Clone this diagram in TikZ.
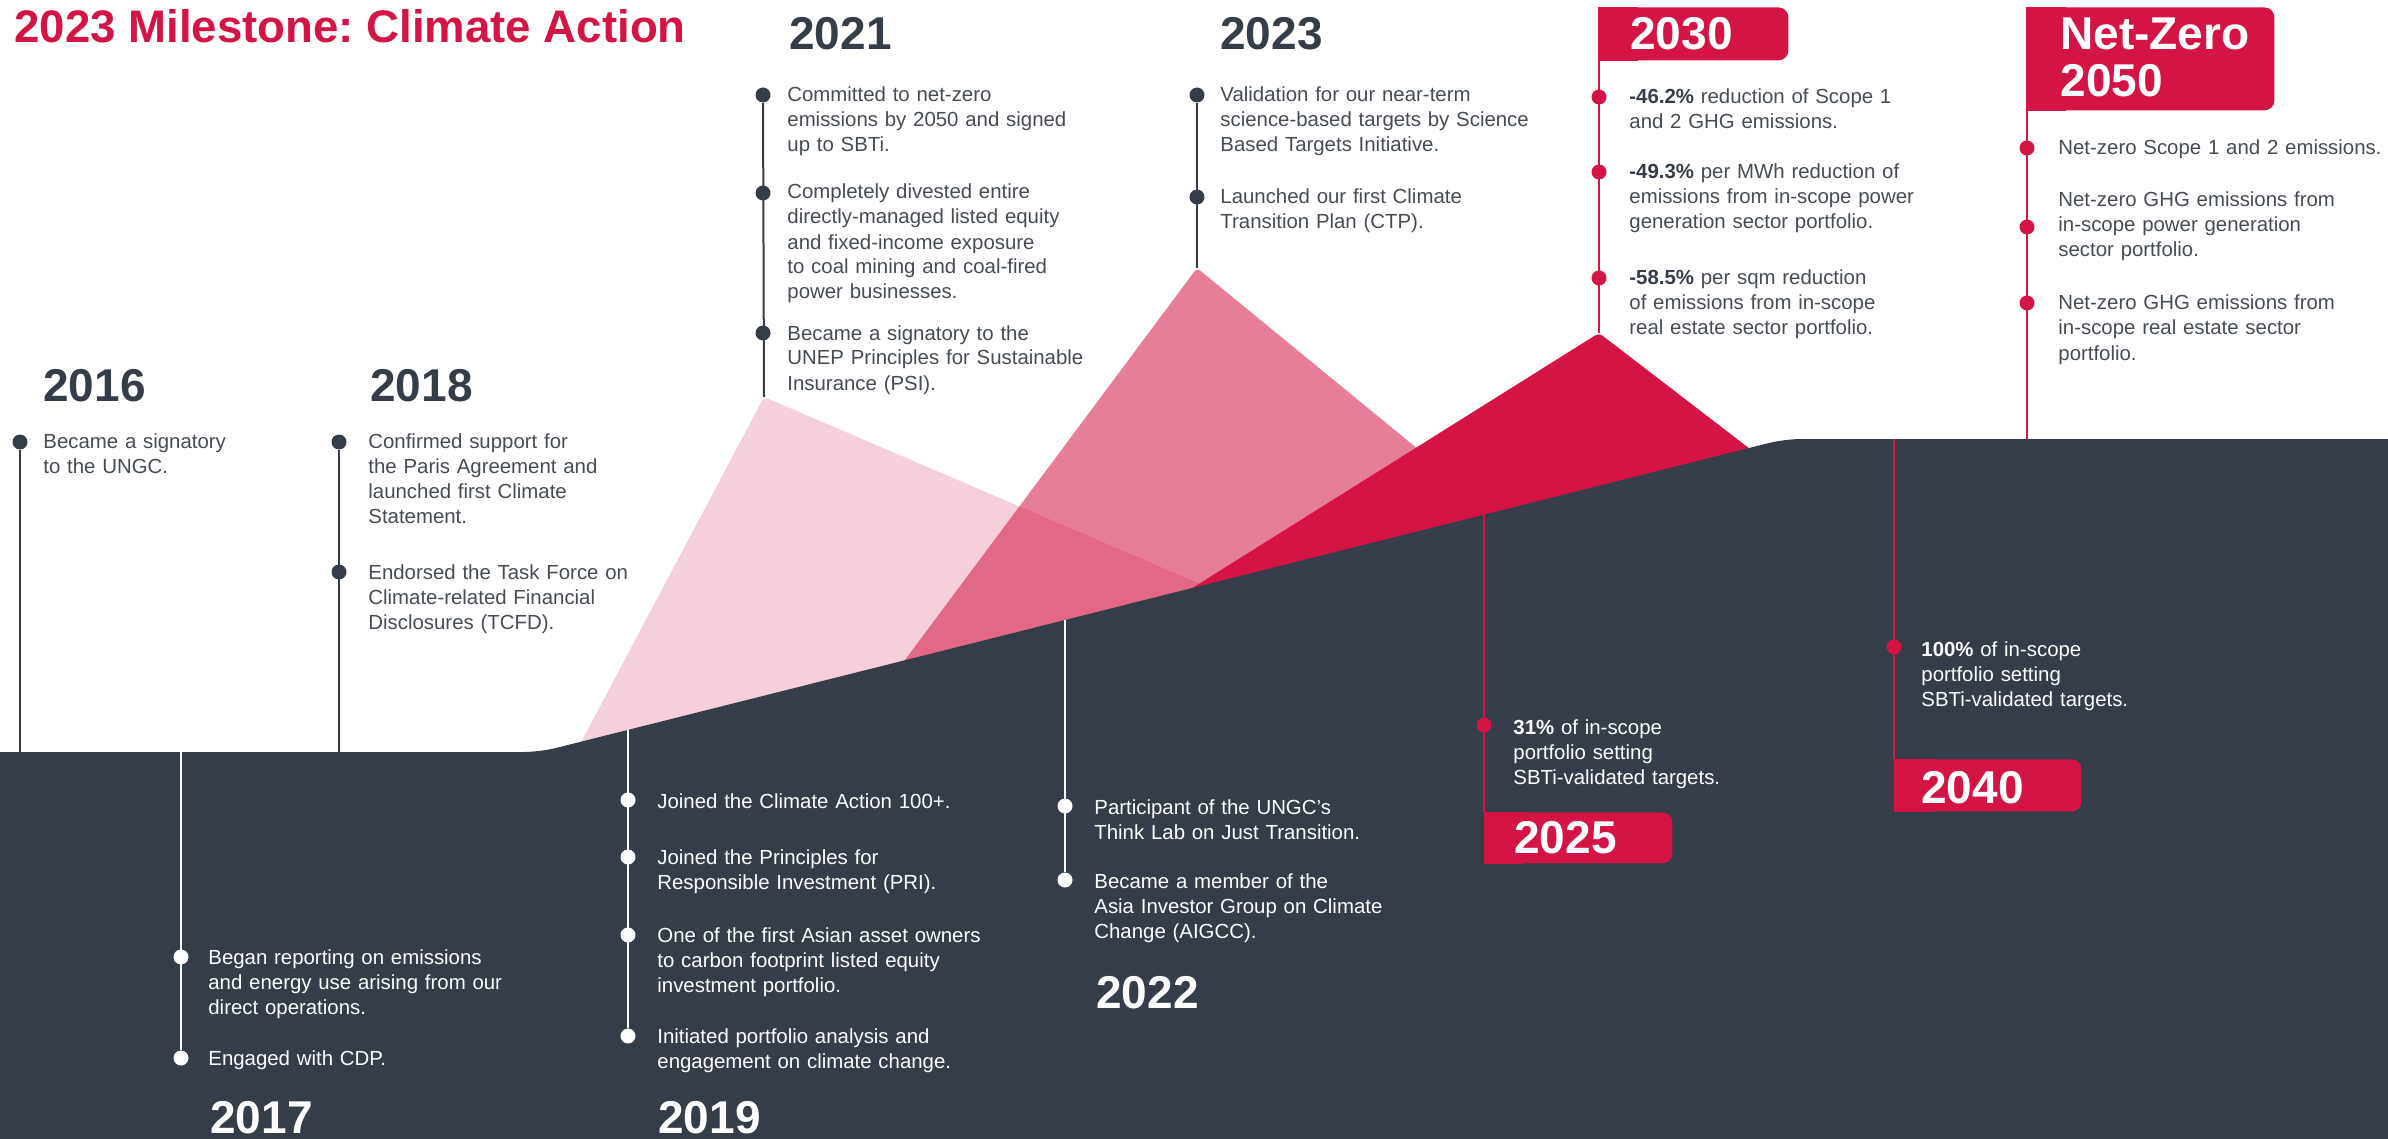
\documentclass[tikz,border=0pt]{standalone}
\usepackage{fontspec}
\setmainfont{Liberation Sans}
\definecolor{slate}{RGB}{52,61,72}
\definecolor{crimson}{RGB}{211,20,69}
\definecolor{inkgray}{RGB}{70,76,84}
\definecolor{blush}{RGB}{245,208,218}
\frenchspacing

\begin{document}
\begin{tikzpicture}[x=0.5pt,y=0.5pt,yscale=-1,
  dot/.style={circle,inner sep=0pt,minimum size=7.5pt},
  note/.style={anchor=base west,align=left,text width=220pt,inner sep=0pt,font=\fontsize{10.2}{12.5}\selectfont},
  yearlabel/.style={anchor=base west,align=left,text width=100pt,inner sep=0pt,font=\fontsize{23}{23.5}\selectfont\bfseries},
  stem/.style={line width=1pt},
  flagbox/.style={fill=crimson,rounded corners=5pt,anchor=north west,inner sep=0pt}]

\useasboundingbox (0,0) rectangle (2388,1139);
\clip (0,0) rectangle (2388,1139);

% peaks
\coordinate (peakA) at (764,397);
\coordinate (peakB) at (1197,268);
\coordinate (peakC) at (1599,333);
\fill[blush,rounded corners=2pt] (552,797) -- (peakA) -- (1282,619) -- cycle;
\fill[crimson,fill opacity=0.55,rounded corners=2pt] (861,719) -- (peakB) -- (1524,536) -- cycle;
\fill[crimson,rounded corners=2pt] (1111,639) -- (peakC) -- (1793,482) -- cycle;

% title
\node[anchor=base west,inner sep=0pt,text=crimson,font=\fontsize{22.8}{22.8}\selectfont\bfseries] (title) at (14,43) {2023 Milestone: Climate Action};

% 2016
\node[yearlabel,text=slate] (y2016) at (43,401) {2016};
\node[dot,fill=slate] (d2016) at (20,442) {};
\node[note,text=inkgray] (t2016) at (43,448) {Became a signatory\\to the UNGC.};
\coordinate (e2016) at (20,752);
\draw[stem,slate] (d2016) -- (e2016);

% 2018
\node[yearlabel,text=slate] (y2018) at (370,401) {2018};
\node[dot,fill=slate] (d2018a) at (339,442) {};
\node[dot,fill=slate] (d2018b) at (339,572) {};
\node[note,text=inkgray] (t2018a) at (368,448) {Confirmed support for\\the Paris Agreement and\\launched first Climate\\Statement.};
\node[note,text=inkgray] (t2018b) at (368,579) {Endorsed the Task Force on\\Climate-related Financial\\Disclosures (TCFD).};
\coordinate (e2018) at (339,752);
\draw[stem,slate] (d2018a) -- (e2018);

% 2021
\node[yearlabel,text=slate] (y2021) at (789,50) {2021};
\node[dot,fill=slate] (d2021a) at (763,95) {};
\node[dot,fill=slate] (d2021b) at (763,193) {};
\node[dot,fill=slate] (d2021c) at (763,333) {};
\node[note,text=inkgray] (t2021a) at (787,102) {Committed to net-zero\\emissions by 2050 and signed\\up to SBTi.};
\node[note,text=inkgray] (t2021b) at (787,199) {Completely divested entire\\directly-managed listed equity\\and fixed-income exposure\\to coal mining and coal-fired\\power businesses.};
\node[note,text=inkgray] (t2021c) at (787,340) {Became a signatory to the\\UNEP Principles for Sustainable\\Insurance (PSI).};
\draw[stem,slate] (d2021a) -- (peakA);

% 2023
\node[yearlabel,text=slate] (y2023) at (1220,50) {2023};
\node[dot,fill=slate] (d2023a) at (1197,95) {};
\node[dot,fill=slate] (d2023b) at (1197,197) {};
\node[note,text=inkgray] (t2023a) at (1220,102) {Validation for our near-term\\science-based targets by Science\\Based Targets Initiative.};
\node[note,text=inkgray] (t2023b) at (1220,204) {Launched our first Climate\\Transition Plan (CTP).};
\draw[stem,slate] (d2023a) -- (peakB);

% 2030
\node[flagbox,minimum width=95pt,minimum height=26.5pt] (f2030) at (1598,7) {};
\fill[crimson] (f2030.north west) rectangle ([xshift=20pt]f2030.south west);
\node[yearlabel,text=white] (y2030) at (1630,50) {2030};
\node[dot,fill=crimson] (d2030a) at (1599,97) {};
\node[dot,fill=crimson] (d2030b) at (1599,172) {};
\node[dot,fill=crimson] (d2030c) at (1599,278) {};
\node[note,text=inkgray] (t2030a) at (1629,104) {\textcolor{slate}{\textbf{-46.2\%}} reduction of Scope 1\\and 2 GHG emissions.};
\node[note,text=inkgray] (t2030b) at (1629,179) {\textcolor{slate}{\textbf{-49.3\%}} per MWh reduction of\\emissions from in-scope power\\generation sector portfolio.};
\node[note,text=inkgray] (t2030c) at (1629,285) {\textcolor{slate}{\textbf{-58.5\%}} per sqm reduction\\of emissions from in-scope\\real estate sector portfolio.};
\draw[stem,crimson] ([xshift=0.5pt]f2030.south west) -- (peakC);

% net-zero 2050
\node[flagbox,minimum width=124pt,minimum height=51.5pt] (f2050) at (2026,7) {};
\fill[crimson] (f2050.north west) rectangle ([xshift=20pt]f2050.south west);
\node[yearlabel,text=white] (y2050) at (2060,50) {Net-Zero\\2050};
\node[dot,fill=crimson] (d2050a) at (2027,148) {};
\node[dot,fill=crimson] (d2050b) at (2027,227) {};
\node[dot,fill=crimson] (d2050c) at (2027,303) {};
\node[note,text=inkgray] (t2050a) at (2058,155) {Net-zero Scope 1 and 2 emissions.};
\node[note,text=inkgray] (t2050b) at (2058,207) {Net-zero GHG emissions from\\in-scope power generation\\sector portfolio.};
\node[note,text=inkgray] (t2050c) at (2058,310) {Net-zero GHG emissions from\\in-scope real estate sector\\portfolio.};
\coordinate (e2050) at (2027,439);
\draw[stem,crimson] ([xshift=0.5pt]f2050.south west) -- (e2050);

% ground
\fill[slate,rounded corners=8pt] (-40,752) -- (540,752) -- (1785,439) -- (2430,439) -- (2430,1180) -- (-40,1180) -- cycle;

% 2017
\coordinate (s2017) at (181,752);
\node[dot,fill=white] (d2017a) at (181,957) {};
\node[dot,fill=white] (d2017b) at (181,1058) {};
\node[note,text=white] (t2017a) at (208,964) {Began reporting on emissions\\and energy use arising from our\\direct operations.};
\node[note,text=white] (t2017b) at (208,1065) {Engaged with CDP.};
\node[yearlabel,text=white] (y2017) at (210,1133) {2017};
\draw[stem,white,line width=0.75pt] (s2017) -- (d2017b);

% 2019
\coordinate (s2019) at (628,730);
\node[dot,fill=white] (d2019a) at (628,800) {};
\node[dot,fill=white] (d2019b) at (628,857) {};
\node[dot,fill=white] (d2019c) at (628,935) {};
\node[dot,fill=white] (d2019d) at (628,1036) {};
\node[note,text=white] (t2019a) at (657,808) {Joined the Climate Action 100+.};
\node[note,text=white] (t2019b) at (657,864) {Joined the Principles for\\Responsible Investment (PRI).};
\node[note,text=white] (t2019c) at (657,942) {One of the first Asian asset owners\\to carbon footprint listed equity\\investment portfolio.};
\node[note,text=white] (t2019d) at (657,1043) {Initiated portfolio analysis and\\engagement on climate change.};
\node[yearlabel,text=white] (y2019) at (658,1133) {2019};
\draw[stem,white,line width=0.75pt] (s2019) -- (d2019d);

% 2022
\coordinate (s2022) at (1065,620);
\node[dot,fill=white] (d2022a) at (1065,806) {};
\node[dot,fill=white] (d2022b) at (1065,880) {};
\node[note,text=white] (t2022a) at (1094,814) {Participant of the UNGC’s\\Think Lab on Just Transition.};
\node[note,text=white] (t2022b) at (1094,888) {Became a member of the\\Asia Investor Group on Climate\\Change (AIGCC).};
\node[yearlabel,text=white] (y2022) at (1096,1008) {2022};
\draw[stem,white,line width=0.75pt] (s2022) -- (d2022b);

% 2025
\coordinate (s2025) at (1484,513);
\node[flagbox,minimum width=94pt,minimum height=25.5pt] (f2025) at (1484,812) {};
\fill[crimson] (f2025.north west) rectangle ([xshift=20pt]f2025.south west);
\node[yearlabel,text=white] (y2025) at (1514,853) {2025};
\node[dot,fill=crimson] (d2025) at (1484,725) {};
\node[note,text=white] (t2025) at (1513,734) {\textbf{31\%} of in-scope\\portfolio setting\\SBTi-validated targets.};
\draw[stem,crimson] (s2025) -- (f2025.north west);

% 2040
\coordinate (s2040) at (1894,439);
\node[flagbox,minimum width=93.5pt,minimum height=26pt] (f2040) at (1894,759) {};
\fill[crimson] (f2040.north west) rectangle ([xshift=20pt]f2040.south west);
\node[yearlabel,text=white] (y2040) at (1921,803) {2040};
\node[dot,fill=crimson] (d2040) at (1894,647) {};
\node[note,text=white] (t2040) at (1921,656) {\textbf{100\%} of in-scope\\portfolio setting\\SBTi-validated targets.};
\draw[stem,crimson] (s2040) -- (f2040.north west);

\end{tikzpicture}
\end{document}
